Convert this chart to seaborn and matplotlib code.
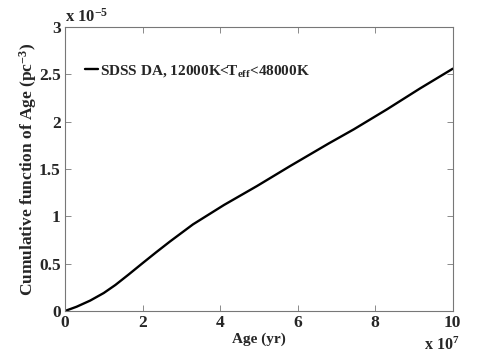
import matplotlib
matplotlib.use("Agg")
import matplotlib.pyplot as plt
import seaborn as sns
import pandas as pd

# data (age in units of 1e7 yr, cumulative in units of 1e-5 pc^-3)
age = [0, 0.3, 0.65, 1.0, 1.3, 1.64, 2.0, 2.35, 2.71, 3.3, 4.1, 4.95, 5.8, 6.8, 7.45, 8.3, 9.15, 10]
cum = [0, 0.045, 0.11, 0.19, 0.275, 0.385, 0.505, 0.62, 0.735, 0.915, 1.12, 1.32, 1.53, 1.77, 1.92, 2.13, 2.35, 2.56]
xticks = [0, 2, 4, 6, 8, 10]
yticks = [0, 0.5, 1, 1.5, 2, 2.5, 3]
yticklabels = ["0", "0.5", "1", "1.5", "2", "2.5", "3"]
series_label = r"SDSS DA, 12000K<T$_{\mathrm{eff}}$<48000K"

sns.set_style("ticks")
plt.rcParams["font.family"] = ["Liberation Serif", "DejaVu Serif"]
plt.rcParams["font.weight"] = "bold"
plt.rcParams["mathtext.fontset"] = "custom"
plt.rcParams["mathtext.rm"] = "Liberation Serif:bold"
plt.rcParams["mathtext.it"] = "Liberation Serif:bold"
plt.rcParams["mathtext.bf"] = "Liberation Serif:bold"

df = pd.DataFrame({"Age": age, "Cum": cum, "label": series_label})

fig = plt.figure(figsize=(5.01, 3.54), dpi=100)
ax = fig.add_axes([0.1297, 0.1215, 0.774, 0.802])
sns.lineplot(data=df, x="Age", y="Cum", hue="label", palette=["black"], lw=1.7, ax=ax)

ax.set_xlim(0, 10)
ax.set_ylim(0, 3)
ax.set_xticks(xticks)
ax.set_xticklabels([str(t) for t in xticks])
ax.set_yticks(yticks)
ax.set_yticklabels(yticklabels)
ax.tick_params(direction="in", length=4, width=0.6, color="#777777", top=True, right=True,
               labelsize=12.5, pad=3)
for lab in ax.get_xticklabels() + ax.get_yticklabels():
    lab.set_fontweight("bold")
for s in ax.spines.values():
    s.set_color("#777777")
    s.set_linewidth(0.8)

ax.set_xlabel("Age (yr)", fontsize=11, fontweight="bold", labelpad=1)
ax.set_ylabel(r"Cumulative function of Age (pc$^{-3}$)", fontsize=12.5, fontweight="bold", labelpad=0)

ax.text(0.0, 1.005, r"x 10$^{-5}$", transform=ax.transAxes, fontsize=12, fontweight="bold",
        ha="left", va="bottom")
ax.text(1.018, -0.137, r"x 10$^{7}$", transform=ax.transAxes, fontsize=11.5, fontweight="bold",
        ha="right", va="baseline")

leg = ax.legend(loc="upper left", bbox_to_anchor=(0.035, 0.895), frameon=False, handlelength=0.9,
                handletextpad=0.1, fontsize=11, borderaxespad=0)
for t in leg.get_texts():
    t.set_fontweight("bold")

fig.savefig("out.png", dpi=100)
